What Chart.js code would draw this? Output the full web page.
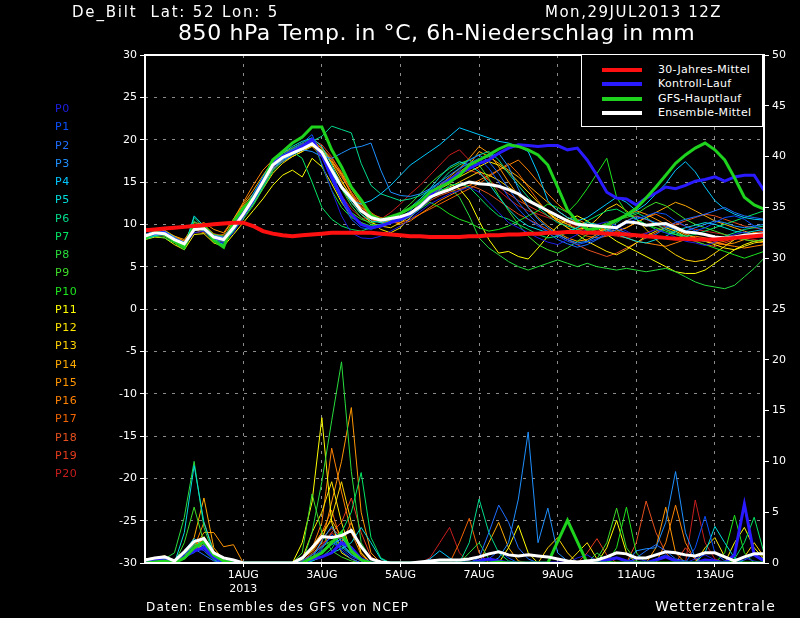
<!DOCTYPE html>
<html>
<head>
<meta charset="utf-8">
<script src="https://cdn.jsdelivr.net/npm/chart.js@4/dist/chart.umd.min.js"></script>
<style>
body { margin: 0; background: #000; width: 800px; height: 618px; overflow: hidden; position: relative; font-family: "DejaVu Sans", sans-serif; color: #fff; }
canvas { position: absolute; left: 0; top: 0; }
.txt { position: absolute; white-space: nowrap; line-height: 1; }
#legend { position: absolute; left: 581px; top: 55px; width: 180px; height: 71px; border: 1px solid #fff; border-top: none; background: #000; }
#legend .row { position: absolute; left: 0; height: 14px; width: 180px; }
#legend .sw { position: absolute; left: 20px; top: 5px; width: 40px; height: 4px; }
#legend .lb { position: absolute; left: 76px; top: 0; font-size: 11px; letter-spacing: 0.3px; }
#members .txt { font-size: 11px; letter-spacing: 0.5px; }
</style>
</head>
<body>
<canvas id="c" width="800" height="618"></canvas>

<div class="txt" style="left:72px;top:5px;font-size:15px;letter-spacing:1.8px;">De_Bilt&nbsp;&nbsp;Lat: 52 Lon: 5</div>
<div class="txt" style="left:545px;top:5px;font-size:15px;letter-spacing:1.5px;">Mon,29JUL2013 12Z</div>
<div class="txt" style="left:178px;top:22px;font-size:22px;letter-spacing:0.6px;">850 hPa Temp. in °C, 6h-Niederschlag in mm</div>
<div class="txt" style="left:146px;top:601px;font-size:12px;letter-spacing:1.2px;">Daten: Ensembles des GFS von NCEP</div>
<div class="txt" style="left:655px;top:599px;font-size:14px;letter-spacing:1.2px;">Wetterzentrale</div>
<div id="members"></div>
<div id="legend"></div>

<script>
// time axis: 6-hourly steps from 29JUL2013 12Z (step 0) to 14AUG 06Z (step 63)
var xTickSteps = [10, 18, 26, 34, 42, 50, 58];
var xTickLabels = [['1AUG', '2013'], '3AUG', '5AUG', '7AUG', '9AUG', '11AUG', '13AUG'];

var memberNames = ['P0','P1','P2','P3','P4','P5','P6','P7','P8','P9','P10','P11','P12','P13','P14','P15','P16','P17','P18','P19','P20'];
var memberColors = ['#1e1ee6','#0a50ff','#1e6eff','#1e90ff','#00c8ff','#00dcdc','#00dc8c','#00e664','#28dc3c','#3cdc28','#1ee61e',
                    '#ffff00','#ffe600','#ffd200','#ffaa00','#ff9600','#ff8200','#f06400','#e6501e','#e63c1e','#c81e1e'];

var legendNames = ['30-Jahres-Mittel', 'Kontroll-Lauf', 'GFS-Hauptlauf', 'Ensemble-Mittel'];
var legendColors = ['#ff1010', '#2a1aff', '#1ed21e', '#ffffff'];

// 850 hPa temperature (°C)
var tempClimate = [9.3,9.4,9.5,9.6,9.7,9.8,9.9,10.0, 10.1,10.2,10.2,9.8,9.2,8.9,8.7,8.6,
                   8.7,8.8,8.9,9.0,9.0,9.0,9.0,9.0, 8.9,8.8,8.7,8.6,8.6,8.5,8.5,8.5,
                   8.5,8.6,8.6,8.7,8.7,8.8,8.8,8.9, 8.9,9.0,9.0,9.1,9.1,9.0,9.0,8.9,
                   8.9,8.8,8.7,8.6,8.5,8.4,8.3,8.3, 8.2,8.2,8.2,8.3,8.4,8.5,8.6,8.7];
var tempMean = [8.6,9.0,8.9,8.2,7.7,9.4,9.5,8.5, 8.2,9.6,11.2,13.0,15.0,17.0,17.9,18.4,
                18.9,19.5,18.5,16.4,14.4,13.1,11.6,10.8, 10.5,10.7,10.9,11.3,12.1,13.2,13.7,14.1,
                14.6,15.0,14.8,14.7,14.5,14.1,13.6,12.8, 12.2,11.6,11.0,10.4,10.0,9.9,9.8,9.7,
                9.6,10.3,10.2,9.9,10.0,10.1,9.6,9.1, 9.0,8.8,8.5,8.4,8.5,8.7,8.8,8.9];
var tempControl = [8.6,9.0,9.0,8.2,7.6,9.5,9.6,8.4, 8.2,9.8,11.4,13.2,15.2,17.2,18.0,18.6,
                   19.2,20.0,18.2,15.6,13.2,11.2,10.0,9.6, 9.8,10.2,10.6,11.2,12.2,13.4,14.4,15.2,
                   16.0,16.6,17.2,17.6,18.4,19.0,19.4,19.3, 19.2,19.3,19.3,18.8,19.0,17.6,15.8,13.8,
                   13.1,13.0,12.3,13.1,13.7,14.4,14.2,14.6, 15.1,15.3,15.6,15.1,15.6,15.8,15.8,14.0];
var tempGfs = [8.4,9.1,8.8,8.0,7.3,9.9,9.7,8.1, 7.3,10.3,11.9,13.1,14.9,17.6,18.6,19.6,
               20.3,21.5,21.5,18.8,16.8,14.4,12.9,11.1, 10.5,10.9,11.3,11.9,12.6,13.8,14.4,15.0,
               15.8,17.0,17.6,18.2,18.9,19.4,19.2,18.8, 18.2,17.0,14.4,11.7,10.3,9.4,9.5,9.9,
               10.5,11.1,11.9,13.1,14.4,15.8,17.2,18.2, 19.0,19.6,18.8,17.6,15.5,13.2,12.3,11.8];

var tempP0 = [8.4,8.8,8.7,8.0,7.4,9.0,9.2,8.0, 7.8,9.0,10.8,12.6,14.8,16.8,17.8,18.6,
              19.4,20.2,17.2,14.0,11.0,9.0,8.4,8.3, 8.6,9.2,9.8,10.6,11.5,12.4,13.0,13.6,
              14.0,14.4,13.8,12.6,11.4,10.2,9.6,9.0, 8.4,7.9,7.6,8.2,8.8,9.4,10.0,10.3,
              9.8,9.2,8.6,8.9,9.4,9.0,8.5,8.0, 7.8,7.5,7.9,8.4,8.8,9.1,8.7,8.4];
var tempP1 = [8.7,9.1,9.0,8.4,7.9,9.6,9.4,8.6, 8.4,9.4,11.0,12.8,14.9,17.1,18.2,18.9,
              19.6,20.6,18.0,15.2,12.8,10.6,9.6,9.4, 9.8,10.4,10.8,11.6,12.8,14.0,14.8,15.4,
              16.0,17.2,17.8,16.6,15.0,13.2,11.8,10.6, 9.8,9.2,8.6,8.0,7.6,7.9,8.3,9.0,
              9.6,10.1,10.6,11.0,11.4,11.2,10.4,9.8, 9.2,9.6,10.2,10.8,11.0,10.6,9.8,9.2];
var tempP2 = [8.5,8.9,9.1,8.1,7.5,9.2,9.7,8.3, 8.0,9.8,11.4,13.2,15.2,16.6,17.4,18.2,
              19.0,19.8,18.6,16.0,13.4,11.2,10.0,9.7, 10.0,10.2,10.4,10.9,11.8,12.9,14.0,15.2,
              16.4,17.6,18.2,17.4,16.0,14.2,12.6,11.2, 10.0,9.0,8.2,7.7,7.3,7.6,8.2,8.8,
              9.4,9.0,8.6,8.4,8.8,9.6,10.2,10.6, 10.9,11.2,11.6,12.0,11.4,11.0,10.8,10.6];
var tempP3 = [8.8,9.2,8.8,8.3,7.8,9.5,9.3,8.7, 8.5,9.5,11.0,12.6,14.6,16.8,17.6,18.2,
              18.8,18.6,18.0,17.8,18.4,19.0,19.2,19.6, 16.4,13.8,13.4,13.3,13.6,14.2,15.0,15.8,
              16.6,17.2,17.6,18.0,18.4,16.8,14.2,12.0, 10.6,9.6,8.8,8.2,7.8,8.0,8.6,9.2,
              9.8,10.4,10.9,10.6,10.2,9.8,9.4,9.2, 9.6,10.0,10.4,10.2,9.8,9.6,9.8,10.0];
var tempP4 = [8.6,9.0,9.2,8.5,7.6,9.3,9.8,8.6, 8.2,9.7,11.3,13.1,15.1,17.0,17.7,18.3,
              18.9,19.4,18.2,16.0,14.2,12.8,12.4,12.8, 13.6,14.6,15.8,17.0,17.8,18.6,19.4,20.4,
              21.4,21.0,20.6,20.2,19.8,19.6,19.2,18.6, 16.0,12.8,11.6,10.8,10.4,10.8,11.6,12.4,
              13.2,12.6,11.6,12.4,13.6,14.8,16.4,17.4, 16.2,14.4,12.8,11.8,11.2,10.8,10.6,10.5];
var tempP5 = [8.4,8.7,8.8,8.0,7.2,11.0,9.8,8.2, 7.6,9.4,11.6,13.6,15.6,17.4,18.4,19.2,
              19.8,20.2,19.2,17.0,14.6,12.6,11.2,10.4, 10.2,10.6,11.2,12.0,13.0,14.2,15.6,16.8,
              17.4,17.0,16.2,14.8,13.2,11.8,10.6,9.8, 9.4,9.0,8.8,9.2,9.6,10.2,10.0,9.4,
              8.8,8.4,8.0,7.8,8.2,8.6,9.2,9.6, 9.9,10.2,10.0,9.6,9.2,9.0,9.2,9.4];
var tempP6 = [8.3,8.6,9.0,8.2,7.4,10.8,9.6,8.4, 8.0,9.2,10.8,12.4,14.4,16.4,17.8,18.8,
              19.4,19.8,20.4,21.6,21.2,20.8,17.2,14.6, 13.6,13.2,12.8,13.0,13.4,14.0,15.0,16.2,
              17.0,17.6,18.2,18.6,17.6,16.0,14.6,13.2, 12.0,11.0,10.2,9.8,9.4,9.0,8.8,9.4,
              10.2,11.0,11.4,10.8,10.0,9.4,9.0,8.6, 8.2,8.0,8.2,8.6,9.0,9.4,9.6,9.8];
var tempP7 = [8.5,8.9,8.6,8.0,7.2,10.4,9.4,8.2, 7.8,9.6,11.4,13.4,15.6,17.6,18.2,18.6,
              17.8,15.0,12.0,10.6,9.8,9.4,9.2,9.6, 10.0,10.4,10.8,11.4,12.2,13.0,13.8,14.6,
              14.8,14.4,13.2,12.0,11.0,10.6,10.0,9.4, 8.8,8.4,8.6,9.0,9.6,10.4,11.0,11.6,
              11.8,11.2,10.6,10.0,9.4,9.0,8.8,8.6, 8.8,9.2,9.6,10.0,10.4,10.8,11.2,11.6];
var tempP8 = [8.2,8.6,8.4,7.8,7.0,9.8,9.2,8.0, 7.6,9.2,10.6,12.2,14.2,16.2,17.4,18.2,
              18.8,19.4,18.8,16.6,14.2,12.2,10.8,10.0, 9.8,10.2,10.8,11.4,12.2,13.2,14.0,14.4,
              13.2,11.0,8.4,7.2,6.4,5.6,5.0,4.6, 5.0,5.4,5.8,5.4,5.0,5.4,5.0,4.8,
              4.6,4.8,4.6,4.4,4.6,4.8,4.4,3.8, 3.2,2.8,2.6,2.4,2.8,3.8,4.8,6.0];
var tempP9 = [8.6,8.9,9.2,8.4,7.8,9.6,9.9,8.8, 8.6,10.0,11.6,13.4,15.4,17.2,18.0,18.6,
              19.0,19.6,18.2,15.4,13.0,11.4,10.6,10.2, 10.4,10.8,11.4,12.4,13.6,14.8,15.8,16.6,
              17.2,17.6,17.0,15.4,13.4,11.6,10.0,8.6, 7.6,7.0,6.6,7.2,8.0,8.8,9.6,10.2,
              10.6,10.8,11.2,12.0,12.6,12.2,11.4,10.6, 10.0,9.6,9.2,8.8,8.4,8.2,8.0,8.2];
var tempP10 = [8.4,8.7,8.9,8.1,7.5,9.2,9.6,8.4, 8.1,9.7,11.4,13.2,15.2,17.2,18.2,19.0,
               19.6,20.2,17.0,14.0,12.0,10.8,10.2,9.8, 10.0,10.2,10.6,11.0,11.8,12.6,12.0,11.2,
               10.6,10.2,9.6,9.2,9.4,9.8,10.4,11.0, 11.6,12.4,12.0,11.4,12.6,14.2,16.0,17.8,
               13.2,11.4,10.6,10.0,9.6,9.2,8.8,8.4, 8.0,7.6,7.2,6.8,6.4,6.0,6.4,6.8];
var tempP11 = [8.2,8.5,8.4,7.6,7.0,8.8,8.9,7.8, 7.4,8.8,10.2,11.6,13.0,14.6,15.8,16.4,
               15.6,17.8,16.8,14.8,12.6,11.0,10.2,9.6, 9.8,10.2,10.6,11.4,12.4,13.4,14.2,14.8,
               14.2,12.8,10.4,8.2,6.6,6.8,6.2,5.9, 7.2,8.6,9.8,10.6,11.0,10.4,9.6,8.8,
               8.0,7.4,6.8,6.2,5.6,5.0,4.4,4.2, 4.2,4.6,5.4,6.2,7.0,7.6,8.0,8.2];
var tempP12 = [8.7,9.1,8.9,8.3,7.9,9.5,9.3,8.6, 8.3,9.6,11.2,13.0,14.8,16.6,17.4,18.0,
               18.6,19.2,18.8,17.2,15.2,13.2,11.6,10.4, 9.4,9.0,9.6,10.8,12.0,13.2,14.2,15.0,
               15.6,16.2,16.8,17.4,17.0,16.2,15.0,13.8, 12.6,11.4,10.4,9.6,8.8,8.0,7.4,6.8,
               6.4,7.0,7.8,8.6,9.2,9.6,9.2,8.6, 8.2,8.0,7.6,7.2,7.0,7.4,7.8,8.0];
var tempP13 = [8.5,8.8,9.1,8.2,7.6,9.7,9.5,8.3, 8.1,9.3,10.8,12.4,14.2,16.0,17.2,18.0,
               18.6,19.4,18.4,16.2,14.2,12.6,11.2,10.2, 9.8,9.6,10.2,11.0,12.0,13.0,13.8,14.4,
               15.0,15.6,16.2,15.8,15.2,14.4,13.6,12.8, 12.2,11.4,10.6,10.0,9.4,9.6,10.6,11.8,
               12.4,11.6,10.6,9.4,8.2,7.2,6.4,5.8, 5.6,5.8,6.6,7.4,8.2,8.8,9.0,8.8];
var tempP14 = [8.6,9.0,9.3,8.6,8.0,10.2,10.0,8.8, 8.4,10.4,12.2,13.6,15.0,16.8,17.8,18.6,
               19.2,19.8,18.6,17.4,16.0,14.2,12.4,11.0, 10.6,10.8,11.2,11.8,12.8,13.8,14.6,15.4,
               16.2,17.0,18.6,18.0,17.2,16.4,15.6,14.6, 13.6,12.6,11.6,10.8,10.2,9.8,9.6,9.4,
               9.2,9.6,10.2,10.8,11.4,12.0,12.6,12.2, 11.6,11.0,10.4,10.0,9.6,9.2,8.8,8.6];
var tempP15 = [8.8,9.2,9.0,8.6,8.2,9.8,10.2,9.4, 9.0,10.6,12.4,14.0,15.8,17.4,18.2,18.8,
               19.4,20.0,19.0,17.6,15.8,13.6,11.8,10.6, 10.2,10.4,10.8,11.4,12.4,13.6,14.6,15.6,
               16.6,17.8,19.2,18.4,16.8,15.0,13.4,12.0, 10.8,9.8,9.0,8.4,8.0,8.2,8.8,9.6,
               10.4,11.0,11.6,11.2,10.6,10.0,9.4,8.8, 8.4,8.0,7.8,7.6,7.8,8.2,8.6,9.0];
var tempP16 = [8.6,9.0,8.8,8.4,8.0,9.4,9.0,8.6, 8.8,10.6,12.6,14.6,16.4,17.6,18.4,19.0,
               19.6,19.2,18.0,16.6,15.0,13.4,12.0,11.2, 10.8,10.4,10.0,10.4,11.2,12.0,12.8,13.4,
               14.0,14.6,15.2,15.8,16.4,17.0,17.6,16.4, 15.0,13.6,12.4,11.4,10.6,10.0,9.6,9.2,
               8.8,8.4,8.0,7.8,7.6,7.4,7.8,8.2, 8.6,8.4,8.0,7.6,7.4,7.2,7.4,7.6];
var tempP17 = [8.4,8.7,8.6,8.0,7.6,9.0,9.2,8.2, 8.0,9.4,11.0,12.8,14.6,16.4,17.6,18.4,
               19.0,19.6,19.0,17.8,16.2,14.4,12.6,11.4, 10.6,10.2,10.2,10.6,11.2,11.8,12.4,13.0,
               13.6,14.2,14.8,15.6,16.4,17.2,16.0,14.4, 12.8,11.4,10.4,9.6,9.0,8.6,8.4,8.6,
               9.0,9.6,10.2,10.8,11.2,10.6,9.8,9.0, 8.4,8.0,7.8,8.0,8.4,8.2,8.0,7.8];
var tempP18 = [8.7,9.0,9.2,8.4,7.8,9.6,9.8,8.9, 8.6,9.8,11.4,13.0,14.8,16.6,17.6,18.4,
               19.2,19.8,19.0,17.4,15.6,13.8,12.2,11.0, 10.4,10.2,10.6,11.2,12.0,12.8,13.4,13.8,
               14.2,14.6,14.2,13.6,12.8,12.0,11.2,10.6, 10.0,9.4,8.8,8.2,7.6,7.0,6.6,6.2,
               6.6,7.2,7.8,8.4,9.0,9.6,10.0,10.4, 10.8,11.2,11.0,10.6,10.2,9.8,9.6,9.4];
var tempP19 = [8.6,8.9,9.0,8.3,7.7,9.4,9.6,8.5, 8.3,9.6,11.2,13.0,15.0,16.8,17.8,18.6,
               19.2,20.0,19.4,18.0,16.0,13.8,12.0,10.8, 10.2,10.4,10.8,11.4,12.2,13.2,14.2,15.2,
               16.0,16.4,16.0,15.2,14.4,13.6,12.8,12.2, 11.6,11.0,10.6,10.2,9.8,9.4,9.2,9.4,
               9.8,10.4,11.0,10.6,10.0,9.4,8.8,8.4, 8.0,7.6,7.4,7.8,8.2,8.6,9.0,9.2];
var tempP20 = [8.5,8.8,8.9,8.2,7.6,9.3,9.4,8.4, 8.2,9.5,11.0,12.8,14.8,16.8,17.8,18.4,
               19.0,19.6,18.0,15.6,13.4,11.8,10.8,10.4, 10.6,11.4,12.4,13.6,14.6,15.8,17.0,18.2,
               18.8,17.6,16.4,15.2,14.0,13.0,12.2,11.6, 11.2,10.8,10.4,10.0,9.6,9.2,9.0,8.8,
               8.6,8.4,8.6,9.0,9.4,9.8,10.2,9.8, 9.4,9.2,9.0,8.8,8.6,8.4,8.2,8.0];

// 6h precipitation (mm), right axis
var precMean = [0.3,0.5,0.6,0.2,1.1,2.1,2.4,1.0, 0.5,0.3,0,0,0,0,0,0,
                0.5,1.5,2.6,2.5,2.7,3.2,1.6,0.4, 0.1,0,0,0,0.1,0.2,0.3,0.3,
                0.3,0.4,0.6,0.9,1.1,0.8,0.7,0.8, 0.7,0.6,0.4,0.2,0.1,0.2,0.3,0.6,
                1.0,0.9,0.5,0.5,0.8,1.1,1.0,0.8, 0.7,1.0,1.0,0.6,0.2,0.6,0.9,0.9];
var precControl = [0.2,0.3,0.4,0,0.6,1.2,1.5,0.6, 0.2,0,0,0,0,0,0,0,
                   0,0.4,0.6,1.0,2.0,1.5,0.4,0, 0,0,0,0,0,0,0,0,
                   0,0,0.2,0.4,0.2,0,0,0, 0,0,0,0,0,0,0,0.3,
                   0.5,0.2,0,0,0.3,0.6,0.2,0, 0,0.3,0.2,0,0.8,5.8,0.8,0.2];
var precGfs = [0,0.1,0.2,0,0.5,1.5,2.1,0.8, 0.2,0,0,0,0,0,0,0,
               0,0.5,1.0,2.0,3.0,1.2,0.3,0, 0,0,0,0,0,0,0,0,
               0,0,0,0,0.1,0,0,0, 0,0,2.1,4.2,2.1,0,0,0,
               0,0,0,0,0,0,0,0, 0,0,0,0,0,0,0,0];

var precP0 = [0.2,0.3,0.3,0,0.8,1.6,1.2,0.4, 0,0,0,0,0,0,0,0,
              0,0.6,1.2,2.0,1.4,0.6,0.2,0, 0,0,0,0,0,0,0,0,
              0,0.3,0.6,0.2,0,0,0,0, 0,0,0,0,0.5,0.8,0.2,0,
              0,0,0.4,0.2,0,0,0,0, 0.4,0.8,0.3,0,0,0.5,0.2,0];
var precP1 = [0,0.2,0.4,0,0.6,1.0,1.8,0.6, 0,0,0,0,0,0,0,0,
              0.2,0.8,1.6,2.6,1.2,0.4,0,0, 0,0,0,0,0,0,0,0,
              0,0,0,0.4,1.2,0.5,0,0, 0,0,0,0,0,0,0,0,
              0,0,0,0,0.4,0.8,0.3,0, 1.5,4.6,1.0,0.2,0,0,0,0];
var precP2 = [0.2,0.3,0.2,0,1.0,1.4,0.8,0.2, 0,0,0,0,0,0,0,0,
              0,0.5,1.4,2.8,1.8,0.8,0.2,0, 0,0,0,0,0,0,0,0,
              0,0,0.5,3.0,5.7,4.0,1.5,0.4, 0,0,0,0,0,0,0,0,
              0,0,0.5,1.2,1.8,1.2,0.4,0.2, 0,0,0,0,0,0.3,0.8,0.4];
var precP3 = [0,0,0.2,0,0.4,1.2,2.2,1.0, 0.2,0,0,0,0,0,0,0,
              0,0.4,2.2,3.6,2.0,0.8,0.2,0, 0,0,0,0,0,0,0,0,
              0,0,0,0,0.5,2.0,6.3,12.9, 2.0,5.4,1.0,0.2, 0,0,0,0,
              0,0,1.2,1.4,1.5,4.0,9.0,3.0, 0.5,0,0,0,0,0,0,0];
var precP4 = [0.3,0.4,0.3,0,1.2,2.4,1.6,0.4, 0,0,0,0,0,0,0,0,
              0,0.3,1.0,1.8,2.4,1.4,0.4,0, 0,0,0,0,0,0.4,1.2,0.5,
              0,0,0,0,0,0,0,0, 0,0,0,0,0,0,0,0,
              0,0,0,0,0,0,0,0, 0,0,0,0,0,0,0,0];
var precP5 = [0,0,0.2,0,3.0,9.6,4.0,1.0, 0.2,0,0,0,0,0,0,0,
              0,0.2,0.6,1.0,1.4,2.0,3.5,2.0, 0.4,0,0,0,0,0,0,0,
              0,0,0,0,0,0,0,0, 0,0,0,0,0,0,0,0,
              0,0,0,0,0,0,0,0, 0,1.0,3.6,2.0,0.5,0,0,0];
var precP6 = [0.2,0.2,0.4,0,0.8,1.8,1.4,0.6, 0,0,0,0,0,0,0,0,
              0,0.4,1.2,2.0,1.6,0.8,0.4,0, 0,0,0,0,0,0,0,0,
              0,2.0,6.3,3.0,1.0,0.2,0,0, 0,0,0,0,0,0,0,0,
              0,0,0,0,0,0,0,0, 0,0,0,0,0,0,0,0];
var precP7 = [0,0.2,0.3,0,1.0,2.0,1.2,0.3, 0,0,0,0,0,0,0,0,
              0,0.2,0.6,1.4,3.0,5.0,8.9,2.5, 0.5,0,0,0,0,0,0,0,
              0,0,0,0,0,0,0,0, 0,0,0,0,0,0,0,0,
              0,0,0,0,0,0,0,0, 0,0,0,0,0.4,2.0,4.5,1.0];
var precP8 = [0,0.2,0.4,1.0,4.5,10.0,3.5,0.8, 0,0,0,0,0,0,0,0,
              0,3.0,8.0,14.0,19.8,9.0,2.0,0.4, 0,0,0,0,0,0,0,0,
              0,1.0,2.0,0.4,0,0,0,0, 0,0,0,0,0,0,1.0,0.2,
              0,0,0,0,0,0,0,0, 0,0,0,0,0,0,0,0];
var precP9 = [0.2,0.2,0.3,0,2.0,5.5,2.0,0.5, 0,0,0,0,0,0,0,0,
              1.0,6.8,3.0,1.2,0.6,0.2,0,0, 0,0,0,0,0,0,0,0,
              0,0,0,0,0,0,0,0, 0,0,0,0,0,0,0.4,2.0,
              5.4,1.5,0.2,0,0,0,0,0, 0,0,0,0,0,0,0,0];
var precP10 = [0,0.1,0.2,0,0.6,1.6,2.0,0.8, 0.2,0,0,0,0,0,0,0,
               0,0.8,1.6,2.2,1.8,1.0,0.2,0, 0,0,0,0,0,0,0,0,
               0,0,0,0,0,0,0,0, 0,0,0,0,0,0,0,0,
               1.5,5.5,1.0,0,0,0,0,0, 0,0,0,1.0,4.7,1.0,0,0];
var precP11 = [0.4,0.5,0.7,0.2,0.8,1.2,1.8,0.6, 0,0,0,0,0,0,0,0,
               2.0,6.0,14.3,4.0,1.0,0.4,0,0, 0,0,0,0,0,0,0,0,
               0,0,0,0,0,1.5,3.7,1.0, 0,0,0,0,0,0,0,1.5,
               4.2,1.0,0,0,0,0,0,0, 0,0,0,0,2.0,3.5,1.5,0.4];
var precP12 = [0.2,0.4,0.5,0,0.8,1.4,2.6,1.0, 0.2,0,0,0,0,0,0,0,
               0.4,3.0,5.0,8.0,4.0,1.0,0.2,0, 0,0,0,0,0,0,0,0,
               0,0,0,0,0,0,0,0, 0,0,0,0,1.0,2.0,0.4,0,
               0,0,0,0,0,0,0,0, 0,1.5,2.5,0.6,0,0,0,0];
var precP13 = [0,0.2,0.3,0,0.6,1.4,2.2,0.8, 0,0,0,0,0,0,0,0,
               0.4,1.2,2.5,4.5,8.0,4.0,1.0,0, 0,0,0,0,0,0,0,0,
               0,0,0,0,0,0,0,0, 0,1.5,2.5,1.0,0,0,0,0,
               0,0,0,0,0,0,0,0, 0,0,0,0,0,0.6,2.0,0.6];
var precP14 = [0.2,0.3,0.4,0,0.8,2.5,6.4,1.5, 0.3,0,0,0,0,0,0,0,
               0.4,1.6,3.0,4.2,2.6,1.2,0.4,0, 0,0,0,0,0,0,0,0,
               0,0,0,2.0,4.0,1.5,0.2,0, 0,0,0,0,0,0,0,0,
               0,0,0,0,0,0,0,0, 0,0,0,0,0,0,0,0];
var precP15 = [0,0.2,0.3,0,0.6,1.4,3.0,3.0, 1.6,1.8,0,0,0,0,0,0,
               0.2,0.8,2.0,6.0,10.0,15.3,5.0,1.0, 0,0,0,0,0,0,0,0,
               0,0,0,0,0,0,0,0, 0,0,0,0,0,0,0,0,
               0,0,0,0,1.5,5.5,1.0,0, 0,0,0,0,0,0,0,0];
var precP16 = [0.2,0.3,0.4,0,0.6,1.5,4.0,1.2, 0.2,0,0,0,0,0,0,0,
               0.6,1.4,4.0,11.3,7.0,3.0,0.8,0, 0,0,0,0,0,0,0,0,
               0,0,0,0,0,0,0,0, 0,0,0,0,0,0,0,0,
               0,0,0,0,0,2.0,5.7,2.0, 0.3,0,0,0,0,0,0,0];
var precP17 = [0,0.2,0.2,0,0.8,1.8,2.2,0.6, 0,0,0,0,0,0,0,0,
               0.4,1.2,3.0,5.2,2.0,4.0,1.0,0, 0,0,0,0,0,0,0,0,
               2.0,4.4,1.0,0,0,0,0,0, 0,0,0,0,0,0,0,0,
               0,0,0,0,0,0,0,0, 0,0,0,0,0,0,0,0];
var precP18 = [0.2,0.4,0.3,0,1.0,1.6,2.4,1.0, 0.2,0,0,0,0,0,0,0,
               0.2,1.0,2.4,3.4,2.6,1.6,0.4,0, 0,0,0,0,0,0,0,0,
               0,0,0,0,0,0,0,0, 0,0,0,0,0,0,0,0,
               0,0,2.0,6.1,3.0,1.0,0,0, 0,0,0,0,0,0,0,0];
var precP19 = [0,0.1,0.3,0,0.6,1.2,2.0,0.8, 0,0,0,0,0,0,0,0,
               0.2,0.8,1.6,3.0,4.0,6.4,3.0,0.6, 0,0,0,0,0,0,0,0,
               0,0,0,0,0,0,0,0, 0,0,0,0,0,1.0,2.4,0.8,
               0,0,0,0,0,0,0,1.5, 0.4,0,0,0,0,0,0,0];
var precP20 = [0.2,0.3,0.4,0,0.8,1.4,1.8,0.6, 0,0,0,0,0,0,0,0,
               0,0.6,1.8,3.0,2.2,1.4,0.4,0, 0,0,0,0,0,0.5,2.0,3.5,
               1.0,0,0,0,0,0,0,0, 0,0,0,0,0,0,0,0,
               0,0,0,0,0,0,0,0, 6.2,2.0,0.4,0,0,0,0,0];

var tempMembers = [tempP0,tempP1,tempP2,tempP3,tempP4,tempP5,tempP6,tempP7,tempP8,tempP9,tempP10,
                   tempP11,tempP12,tempP13,tempP14,tempP15,tempP16,tempP17,tempP18,tempP19,tempP20];
var precMembers = [precP0,precP1,precP2,precP3,precP4,precP5,precP6,precP7,precP8,precP9,precP10,
                   precP11,precP12,precP13,precP14,precP15,precP16,precP17,precP18,precP19,precP20];

function pts(arr) {
  return arr.map(function (v, i) { return { x: i, y: v }; });
}

function line(arr, color, width, axis, order) {
  return {
    data: pts(arr), borderColor: color, borderWidth: width, yAxisID: axis,
    pointRadius: 0, tension: 0, fill: false, order: order, borderJoinStyle: 'miter'
  };
}

var datasets = [];
datasets.push(line(tempClimate, legendColors[0], 4, 'y', 0));
datasets.push(line(tempMean, legendColors[3], 3, 'y', 1));
datasets.push(line(precMean, legendColors[3], 3, 'y1', 1));
datasets.push(line(tempGfs, legendColors[2], 3, 'y', 2));
datasets.push(line(precGfs, legendColors[2], 3, 'y1', 2));
datasets.push(line(tempControl, legendColors[1], 3, 'y', 3));
datasets.push(line(precControl, legendColors[1], 3, 'y1', 3));
for (var m = 0; m < memberNames.length; m++) {
  datasets.push(line(tempMembers[m], memberColors[m], 1, 'y', 10 + m));
  datasets.push(line(precMembers[m], memberColors[m], 1, 'y1', 10 + m));
}

// white frame round the plot area
var framePlugin = {
  id: 'frame',
  afterDatasetsDraw: function (chart) {
    var a = chart.chartArea, ctx = chart.ctx;
    ctx.save();
    ctx.strokeStyle = '#fff';
    ctx.lineWidth = 2;
    ctx.strokeRect(a.left, a.top, a.right - a.left, a.bottom - a.top);
    ctx.restore();
  }
};

var tickFont = { family: 'DejaVu Sans', size: 11 };

new Chart(document.getElementById('c').getContext('2d'), {
  type: 'line',
  data: { datasets: datasets },
  plugins: [framePlugin],
  options: {
    responsive: false,
    animation: false,
    devicePixelRatio: 1,
    layout: { padding: { top: 55, left: 0, right: 0, bottom: 0 } },
    plugins: { legend: { display: false }, tooltip: { enabled: false }, title: { display: false } },
    events: [],
    scales: {
      x: {
        type: 'linear', min: 0, max: 63,
        afterBuildTicks: function (s) { s.ticks = xTickSteps.map(function (v) { return { value: v }; }); },
        afterFit: function (s) { s.height = 55; },
        ticks: { color: '#fff', font: tickFont, autoSkip: false, maxRotation: 0, padding: 2,
                 callback: function (v, i) { return xTickLabels[i]; } },
        grid: { color: '#8c8c8c', lineWidth: 1, tickColor: '#fff', tickLength: 4, tickBorderDash: [] },
        border: { display: false, dash: [3, 6] }
      },
      y: {
        position: 'left', min: -30, max: 30,
        afterFit: function (s) { s.width = 145; },
        ticks: { stepSize: 5, color: '#fff', font: tickFont, padding: 3 },
        grid: { color: '#8c8c8c', lineWidth: 1, tickColor: '#fff', tickLength: 5, tickBorderDash: [] },
        border: { display: false, dash: [3, 6] }
      },
      y1: {
        position: 'right', min: 0, max: 50,
        afterFit: function (s) { s.width = 36; },
        ticks: { stepSize: 5, color: '#fff', font: tickFont, padding: 3 },
        grid: { drawOnChartArea: false, color: '#fff', tickColor: '#fff', tickLength: 5 },
        border: { display: false }
      }
    }
  }
});

// member labels down the left side
var mem = document.getElementById('members');
memberNames.forEach(function (n, i) {
  var d = document.createElement('div');
  d.className = 'txt';
  d.style.left = '55px';
  d.style.top = (103 + i * 18.25) + 'px';
  d.style.color = memberColors[i];
  d.textContent = n;
  mem.appendChild(d);
});

// legend box, top right
var lg = document.getElementById('legend');
legendNames.forEach(function (n, i) {
  var r = document.createElement('div');
  r.className = 'row';
  r.style.top = (8 + i * 14.3) + 'px';
  r.innerHTML = '<div class="sw" style="background:' + legendColors[i] + '"></div><div class="lb">' + n + '</div>';
  lg.appendChild(r);
});
</script>
</body>
</html>
